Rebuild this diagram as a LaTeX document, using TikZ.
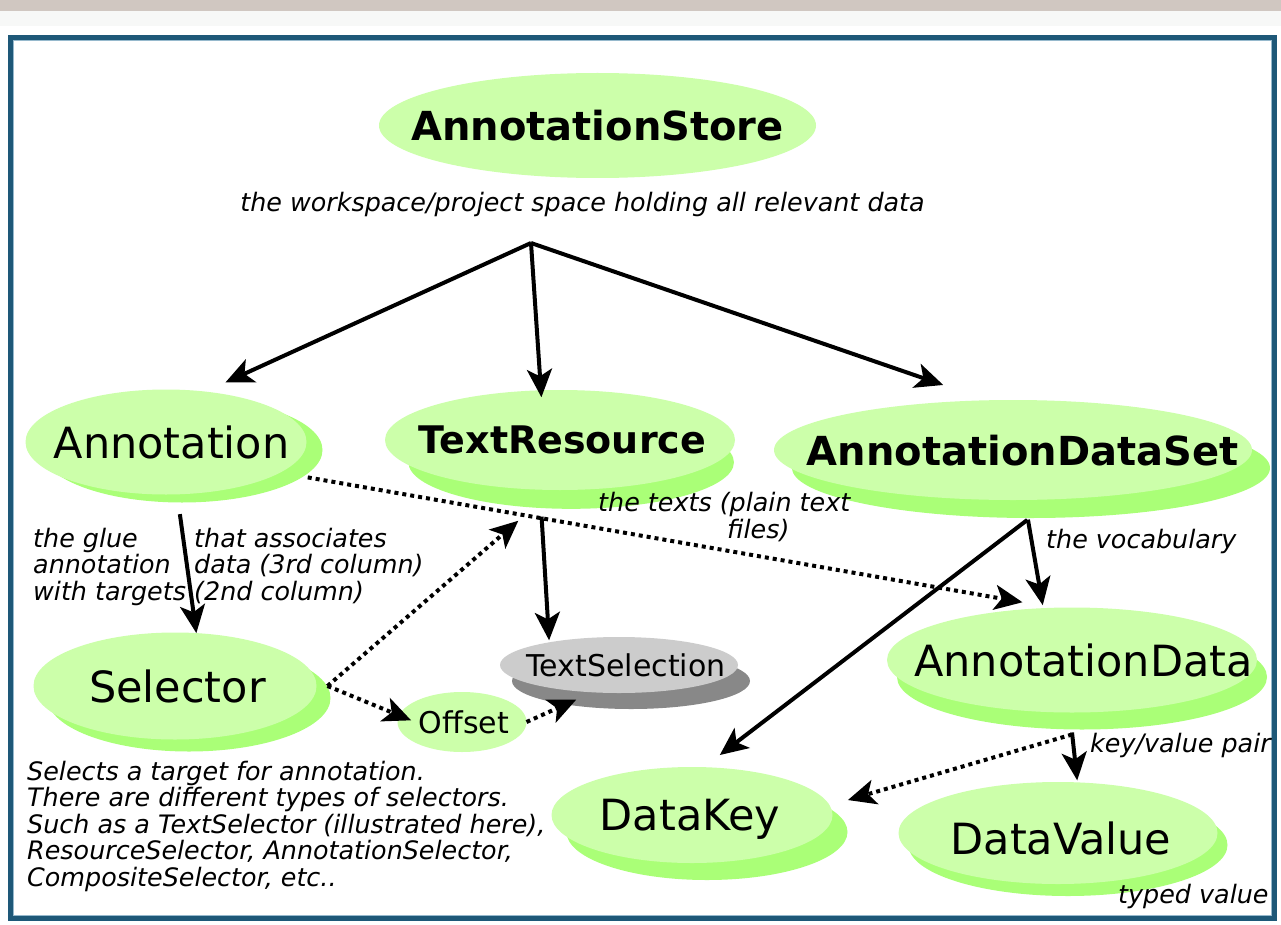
\documentclass[tikz,border=0pt]{standalone}
\usepackage{fontspec}
\setmainfont{DejaVu Sans}
\usetikzlibrary{shapes.geometric, shadows, arrows.meta}

\definecolor{leaf}{RGB}{204,255,170}
\definecolor{leafshade}{RGB}{170,255,119}
\definecolor{stone}{RGB}{204,204,204}
\definecolor{stoneshade}{RGB}{136,136,136}
\definecolor{frameblue}{RGB}{30,88,120}
\definecolor{framelight}{RGB}{150,185,205}
\definecolor{topbar}{RGB}{208,199,193}
\definecolor{topband}{RGB}{247,248,247}

\tikzset{
  bubble/.style={ellipse, fill=leaf, inner sep=0pt, outer sep=0pt},
  leafshadow/.style 2 args={drop shadow={shadow xshift=#1, shadow yshift=#2, fill=leafshade, opacity=1}},
  stoneshadow/.style 2 args={drop shadow={shadow xshift=#1, shadow yshift=#2, fill=stoneshade, opacity=1}},
  plainword/.style={font=\fontsize{43}{50}\selectfont, text depth=0pt},
  boldword/.style={font=\fontsize{40}{46}\selectfont\bfseries, text depth=0pt},
  smallword/.style={font=\fontsize{30}{36}\selectfont, text depth=0pt},
  note/.style={font=\fontsize{25.4}{26.5}\selectfont\itshape, inner sep=0pt, align=left},
  link/.style={line width=4pt, -{Stealth[length=28pt, width=25pt, inset=7pt]}},
  hint/.style={link, dash pattern=on 4pt off 4pt},
}

\begin{document}
\begin{tikzpicture}[x=1pt, y=-1pt]
  \useasboundingbox (0,0) rectangle (1281,925);
  \fill[white] (0,0) rectangle (1281,925);
  \fill[topbar] (0,0) rectangle (1281,11);
  \fill[topband] (0,11) rectangle (1281,26);
  \draw[frameblue, line width=5pt] (10.5,37.5) rectangle (1274.5,918.5); % frame
  \draw[framelight, line width=1.2pt] (13.6,40.6) rectangle (1271.4,915.4);

  % store and its three parts
  \node[bubble, minimum width=437pt, minimum height=105pt,
        label={[boldword]center:AnnotationStore}] (store) at (597.5,125.5) {};
  \node[note, anchor=base] (storenote) at (582.5,212) {the workspace/project space holding all relevant data};
  \coordinate (hub) at (531,243);

  \node[bubble, leafshadow={16pt}{-8pt}, minimum width=281pt, minimum height=105pt,
        label={[plainword, xshift=5.5pt]center:Annotation}] (ann) at (166,442) {};
  \node[bubble, drop shadow={shadow scale=.93, shadow xshift=12pt, shadow yshift=-24pt, fill=leafshade, opacity=1},
        minimum width=350pt, minimum height=100pt,
        label={[boldword, font=\fontsize{38}{44}\selectfont\bfseries, xshift=2.5pt]center:TextResource}] (res) at (560,440) {};
  \node[bubble, leafshadow={18pt}{-18pt}, minimum width=478pt, minimum height=100pt,
        label={[boldword, xshift=9.5pt]center:AnnotationDataSet}] (set) at (1013,450) {};

  % second row
  \node[bubble, leafshadow={14pt}{-12pt}, minimum width=283pt, minimum height=107pt,
        label={[plainword, xshift=2.5pt]center:Selector}] (sel) at (175,686) {};
  \node[bubble, minimum width=129pt, minimum height=60pt,
        label={[smallword, xshift=2pt]center:Offset}] (off) at (462,722) {};
  \node[bubble, fill=stone, stoneshadow={12pt}{-16pt}, minimum width=238pt, minimum height=56pt,
        label={[smallword, xshift=7pt]center:TextSelection}] (tsel) at (619,665) {};
  \node[bubble, leafshadow={10pt}{-17pt}, minimum width=370pt, minimum height=105pt,
        label={[plainword, xshift=11.5pt]center:AnnotationData}] (adata) at (1072,660) {};
  \node[bubble, leafshadow={15pt}{-17pt}, minimum width=281pt, minimum height=96pt,
        label={[plainword, xshift=-2pt]center:DataKey}] (key) at (692,815) {};
  \node[bubble, leafshadow={10pt}{-12pt}, minimum width=319pt, minimum height=102pt,
        label={[plainword, xshift=3pt, yshift=-5pt]center:DataValue}] (val) at (1058,833) {};

  % labels (base = last line)
  \node[note, anchor=base west] (gluenote) at (33,600) {the glue\\annotation\\with targets};
  \node[note, anchor=base west] (assocnote) at (194,600) {that associates\\data (3rd column)\\(2nd column)};
  \node[note, anchor=base west] (textsnote) at (598,538) {the texts (plain text\\\hspace*{129pt}files)};
  \node[note, anchor=base west] (vocabnote) at (1046,548) {the vocabulary};
  \node[note, anchor=base west] (pairnote) at (1090,752) {key/value pair};
  \node[note, anchor=base west] (typednote) at (1118,903) {typed value};
  \node[note, anchor=base west] (selnote) at (27,886) {Selects a target for annotation.\\There are different types of selectors.\\Such as a TextSelector (illustrated here),\\ResourceSelector, AnnotationSelector,\\CompositeSelector, etc..};

  % solid arrows
  \draw[link, shorten >=22pt] (hub) -- (ann.52);
  \draw[link, shorten >=-7pt] (hub) -- (res.111);
  \draw[link, shorten >=47pt] (hub) -- (set.117);
  \draw[link, shorten <=20pt] (ann.-78) -- (sel.68);
  \draw[link, shorten <=27pt, shorten >=2pt] (res.-112) -- (tsel.162);
  \draw[link, shorten <=20pt, shorten >=3pt] (set.-77) -- (adata.119);
  \draw[link, shorten <=34pt, shorten >=20pt] (set.-50) -- (key.76);
  \draw[link, shorten >=2pt] ([yshift=-20pt]adata.south) -- (val.69);

  % dotted arrows
  \draw[hint, shorten <=28pt, shorten >=32pt] (ann.-15) -- (adata.109);
  \draw[hint, shorten >=47pt] ([xshift=11pt]sel.east) -- (res.-97);
  \draw[hint, shorten >=-13pt] ([xshift=11pt]sel.east) -- (off.174);
  \draw[hint, shorten >=18pt] (off.east) -- (tsel.-134);
  \draw[hint, shorten >=19pt] ([yshift=-22pt]adata.south) -- (key.4);
\end{tikzpicture}
\end{document}
